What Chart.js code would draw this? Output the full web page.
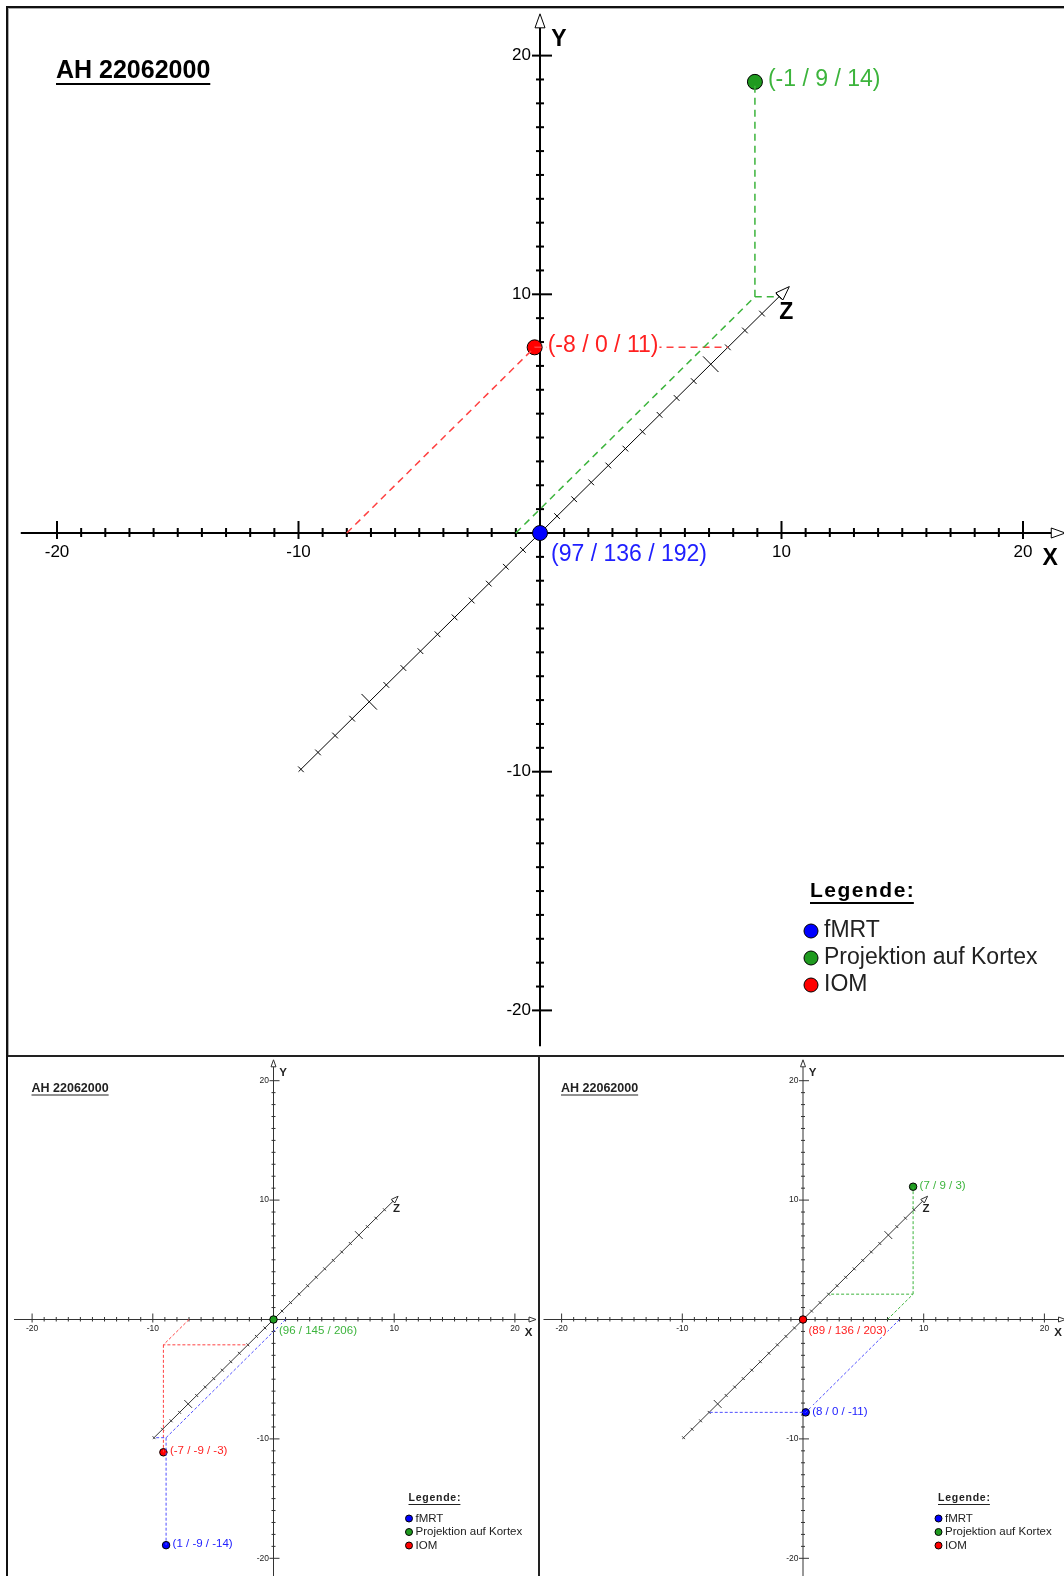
<!DOCTYPE html>
<html lang="de">
<head>
    <meta charset="UTF-8">
    <title>AH 22062000</title>
    <style>
        body {
            margin: 0;
            background: #fff;
        }
        #page {
            position: relative;
            width: 1064px;
            height: 1576px;
            overflow: hidden;
            background: #fff;
        }
        .rule {
            position: absolute;
            background: #111;
        }
        canvas {
            position: absolute;
        }
    </style>
    <script src="https://cdn.jsdelivr.net/npm/chart.js"></script>
</head>
<body>
<div id="page">
    <div class="rule" style="left:6px;top:6px;width:1058px;height:2px"></div>
    <div class="rule" style="left:6px;top:6px;width:2px;height:1570px"></div>
    <div class="rule" style="left:8px;top:8px;width:1056px;height:1px;background:#aaa"></div>
    <div class="rule" style="left:8px;top:8px;width:1px;height:1047px;background:#aaa"></div>
    <div class="rule" style="left:8px;top:1055px;width:1056px;height:2px;background:#222"></div>
    <div class="rule" style="left:538px;top:1056px;width:2px;height:520px;background:#222"></div>

    <canvas id="chartTop" style="left:9px;top:9px" width="1055" height="1046"></canvas>
    <canvas id="chartLeft" style="left:9px;top:1057px" width="529" height="519"></canvas>
    <canvas id="chartRight" style="left:540px;top:1057px" width="524" height="519"></canvas>
</div>

<script>
    // ---- data ----
    const panelTitle = 'AH 22062000';
    const legendTitle = 'Legende:';
    const seriesNames = ['fMRT', 'Projektion auf Kortex', 'IOM'];
    const axisTickLabels = [-20, -10, 10, 20];

    // (x / y / z) relative to the reference point, one row per series
    const topValues = [[0, 0, 0], [-1, 9, 14], [-8, 0, 11]];
    const leftValues = [[1, -9, -14], [0, 0, 0], [-7, -9, -3]];
    const rightValues = [[8, 0, -11], [7, 9, 3], [0, 0, 0]];

    // absolute coordinates of the reference point in each view
    const topReference = [97, 136, 192];
    const leftReference = [96, 145, 206];
    const rightReference = [89, 136, 203];

    // ---- styles ----
    const seriesFill = ['#0000ff', '#1f9a1f', '#ff0000'];
    const seriesText = ['#2020ff', '#3cb43c', '#ff2020'];
    const seriesDash = ['#5050ff', '#3cb43c', '#ff4040'];
    const FONT = '"Liberation Sans", Arial, sans-serif';

    const AXIS_FROM = -21.5;   // where the x / y axis lines start
    const AXIS_TIP = 21.75;    // arrow tips
    const Z_FROM = -14.14;
    const Z_TIP = 14.6;

    function project(p) {
        // cavalier projection, z runs at 45 degrees
        return { x: p[0] + p[2] * Math.SQRT1_2, y: p[1] + p[2] * Math.SQRT1_2 };
    }

    function isOrigin(v) {
        return v[0] === 0 && v[1] === 0 && v[2] === 0;
    }

    function seg(ctx, x1, y1, x2, y2, w) {
        ctx.lineWidth = w;
        ctx.beginPath();
        ctx.moveTo(x1, y1);
        ctx.lineTo(x2, y2);
        ctx.stroke();
    }

    function arrowHead(ctx, tx, ty, ux, uy, len, half, ink) {
        const bx = tx - ux * len, by = ty - uy * len;
        const nx = -uy, ny = ux;
        ctx.beginPath();
        ctx.moveTo(tx, ty);
        ctx.lineTo(bx + nx * half, by + ny * half);
        ctx.lineTo(bx - nx * half, by - ny * half);
        ctx.closePath();
        ctx.fillStyle = '#fff';
        ctx.fill();
        ctx.lineWidth = 1;
        ctx.strokeStyle = ink;
        ctx.stroke();
    }

    // label with a white box behind it, so dashed lines stop at the text
    function boxedText(ctx, text, x, y, size, color) {
        const w = ctx.measureText(text).width;
        ctx.fillStyle = '#fff';
        ctx.fillRect(x - 1, y - size * 0.55, w + 2, size * 1.1);
        ctx.fillStyle = color;
        ctx.fillText(text, x, y);
    }

    function drawAxes(chart, cfg) {
        const ctx = chart.ctx, s = cfg.s;
        const px = v => chart.scales.x.getPixelForValue(v);
        const py = v => chart.scales.y.getPixelForValue(v);
        const x0 = px(0), y0 = py(0);
        const ink = s < 1 ? '#333' : '#000';
        const lw = Math.max(1, 2 * s);
        ctx.save();
        ctx.strokeStyle = ink;

        // X axis
        const xTip = px(AXIS_TIP);
        seg(ctx, px(AXIS_FROM), y0, xTip - 14 * s, y0, lw);
        for (let t = -20; t <= 20; t++) {
            if (t === 0) continue;
            const major = t % 10 === 0;
            seg(ctx, px(t), y0 - (major ? 12 : 5) * s, px(t), y0 + (major ? 6 : 4) * s, lw);
        }
        arrowHead(ctx, xTip, y0, 1, 0, 14 * s, 5 * s, ink);

        // Y axis
        ctx.strokeStyle = ink;
        const yTip = py(AXIS_TIP);
        seg(ctx, x0, py(AXIS_FROM), x0, yTip + 14 * s, lw);
        for (let t = -20; t <= 20; t++) {
            if (t === 0) continue;
            const major = t % 10 === 0;
            seg(ctx, x0 - (major ? 8 : 4) * s, py(t), x0 + (major ? 12 : 4) * s, py(t), lw);
        }
        arrowHead(ctx, x0, yTip, 0, -1, 14 * s, 5 * s, ink);

        // Z axis
        ctx.strokeStyle = ink;
        const zp = z => {
            const q = project([0, 0, z]);
            return [px(q.x), py(q.y)];
        };
        const a = zp(Z_FROM), b = zp(Z_TIP);
        const len = Math.hypot(b[0] - a[0], b[1] - a[1]);
        const ux = (b[0] - a[0]) / len, uy = (b[1] - a[1]) / len;
        const nx = -uy, ny = ux;
        seg(ctx, a[0], a[1], b[0] - ux * 14 * s, b[1] - uy * 14 * s, 1);
        for (let z = -14; z <= 14; z++) {
            if (z === 0) continue;
            const half = (z % 10 === 0 ? 11 : 4) * s;
            const p = zp(z);
            seg(ctx, p[0] - nx * half, p[1] - ny * half, p[0] + nx * half, p[1] + ny * half, 1);
        }
        arrowHead(ctx, b[0], b[1], ux, uy, 14 * s, 5 * s, ink);
        ctx.restore();
    }

    function drawTexts(chart, cfg) {
        const ctx = chart.ctx, s = cfg.s;
        const px = v => chart.scales.x.getPixelForValue(v);
        const py = v => chart.scales.y.getPixelForValue(v);
        const x0 = px(0), y0 = py(0);
        const ink = s < 1 ? '#222' : '#000';
        ctx.save();
        ctx.fillStyle = ink;
        ctx.strokeStyle = ink;

        // tick labels
        ctx.font = (17 * s) + 'px ' + FONT;
        ctx.textBaseline = 'middle';
        ctx.textAlign = 'center';
        axisTickLabels.forEach(t => ctx.fillText(String(t), px(t), y0 + 19 * s));
        ctx.textAlign = 'right';
        axisTickLabels.forEach(t => ctx.fillText(String(t), x0 - 9 * s, py(t)));

        // axis names
        ctx.font = 'bold ' + (23 * s) + 'px ' + FONT;
        ctx.textAlign = 'center';
        ctx.fillText('X', px(AXIS_TIP) - 15 * s, y0 + 26 * s);
        ctx.fillText('Y', x0 + 19 * s, py(AXIS_TIP) + 26 * s);
        const zt = project([0, 0, Z_TIP]);
        ctx.fillText('Z', px(zt.x) - 3 * s, py(zt.y) + 26 * s);

        // title
        ctx.font = 'bold ' + (25 * s) + 'px ' + FONT;
        ctx.textAlign = 'left';
        const tx = x0 - 484 * s, ty = y0 - 462 * s;
        ctx.fillText(panelTitle, tx, ty);
        seg(ctx, tx, ty + 13 * s, tx + ctx.measureText(panelTitle).width, ty + 13 * s, Math.max(1, 2 * s));

        // legend
        const lx = x0 + 270 * s, ly = y0 + 358 * s;
        ctx.font = 'bold ' + (21 * s) + 'px ' + FONT;
        ctx.letterSpacing = (1.5 * s) + 'px';
        ctx.fillText(legendTitle, lx, ly);
        const lw = ctx.measureText(legendTitle).width;
        ctx.letterSpacing = '0px';
        seg(ctx, lx, ly + 12 * s, lx + lw - 1.5 * s, ly + 12 * s, Math.max(1, 2 * s));
        ctx.font = (23 * s) + 'px ' + FONT;
        seriesNames.forEach((name, i) => {
            const cy = y0 + (398 + 27 * i) * s;
            ctx.beginPath();
            ctx.arc(x0 + 271 * s, cy, 7 * s, 0, Math.PI * 2);
            ctx.fillStyle = seriesFill[i];
            ctx.fill();
            ctx.lineWidth = 1;
            ctx.strokeStyle = '#000';
            ctx.stroke();
            ctx.fillStyle = '#222';
            ctx.fillText(name, x0 + 284 * s, cy);
        });

        // point labels
        const fs = 23 * s;
        ctx.font = fs + 'px ' + FONT;
        cfg.values.forEach((v, i) => {
            if (isOrigin(v)) {
                boxedText(ctx, '(' + cfg.reference.join(' / ') + ')', x0 + 11 * s, y0 + 22 * s, fs, seriesText[i]);
            } else {
                const p = project(v);
                boxedText(ctx, '(' + v.join(' / ') + ')', px(p.x) + 13 * s, py(p.y) - 2 * s, fs, seriesText[i]);
            }
        });
        ctx.restore();
    }

    function buildPanel(id, values, reference, s, ox, oy, kx, ky) {
        const canvas = document.getElementById(id);
        const w = canvas.width, h = canvas.height;
        const datasets = [];

        // dashed construction lines: x-axis -> (x,0,z) -> z-axis, and up/down to the point
        values.forEach((v, i) => {
            if (isOrigin(v)) return;
            const a = project([v[0], 0, 0]);
            const b = project([v[0], 0, v[2]]);
            const c = project([0, 0, v[2]]);
            const d = project(v);
            const style = {
                showLine: true,
                borderColor: seriesDash[i],
                borderWidth: s < 1 ? 1 : 1.5,
                borderDash: s < 1 ? [3, 2] : [7, 5],
                pointRadius: 0,
                fill: false
            };
            datasets.push(Object.assign({ data: [a, b, c] }, style));
            if (v[1] !== 0) datasets.push(Object.assign({ data: [b, d] }, style));
        });

        values.forEach((v, i) => {
            datasets.push({
                label: seriesNames[i],
                data: [project(v)],
                pointRadius: 7.5 * s,
                backgroundColor: seriesFill[i],
                borderColor: '#000',
                borderWidth: 1
            });
        });

        const cfg = { s: s, values: values, reference: reference };
        return new Chart(canvas, {
            type: 'scatter',
            data: { datasets: datasets },
            options: {
                responsive: false,
                animation: false,
                events: [],
                layout: { padding: 0, autoPadding: false },
                plugins: { legend: { display: false }, tooltip: { enabled: false } },
                scales: {
                    x: { type: 'linear', display: false, min: -ox / kx, max: (w - ox) / kx },
                    y: { type: 'linear', display: false, min: -(h - oy) / ky, max: oy / ky }
                }
            },
            plugins: [{
                id: 'axes3d',
                beforeDatasetsDraw: chart => drawAxes(chart, cfg),
                afterDatasetsDraw: chart => drawTexts(chart, cfg)
            }]
        });
    }

    buildPanel('chartTop', topValues, topReference, 1, 531, 524, 24.15, 23.87);
    buildPanel('chartLeft', leftValues, leftReference, 0.5, 264.5, 262.5, 12.07, 11.94);
    buildPanel('chartRight', rightValues, rightReference, 0.5, 263, 262.5, 12.07, 11.94);
</script>
</body>
</html>
